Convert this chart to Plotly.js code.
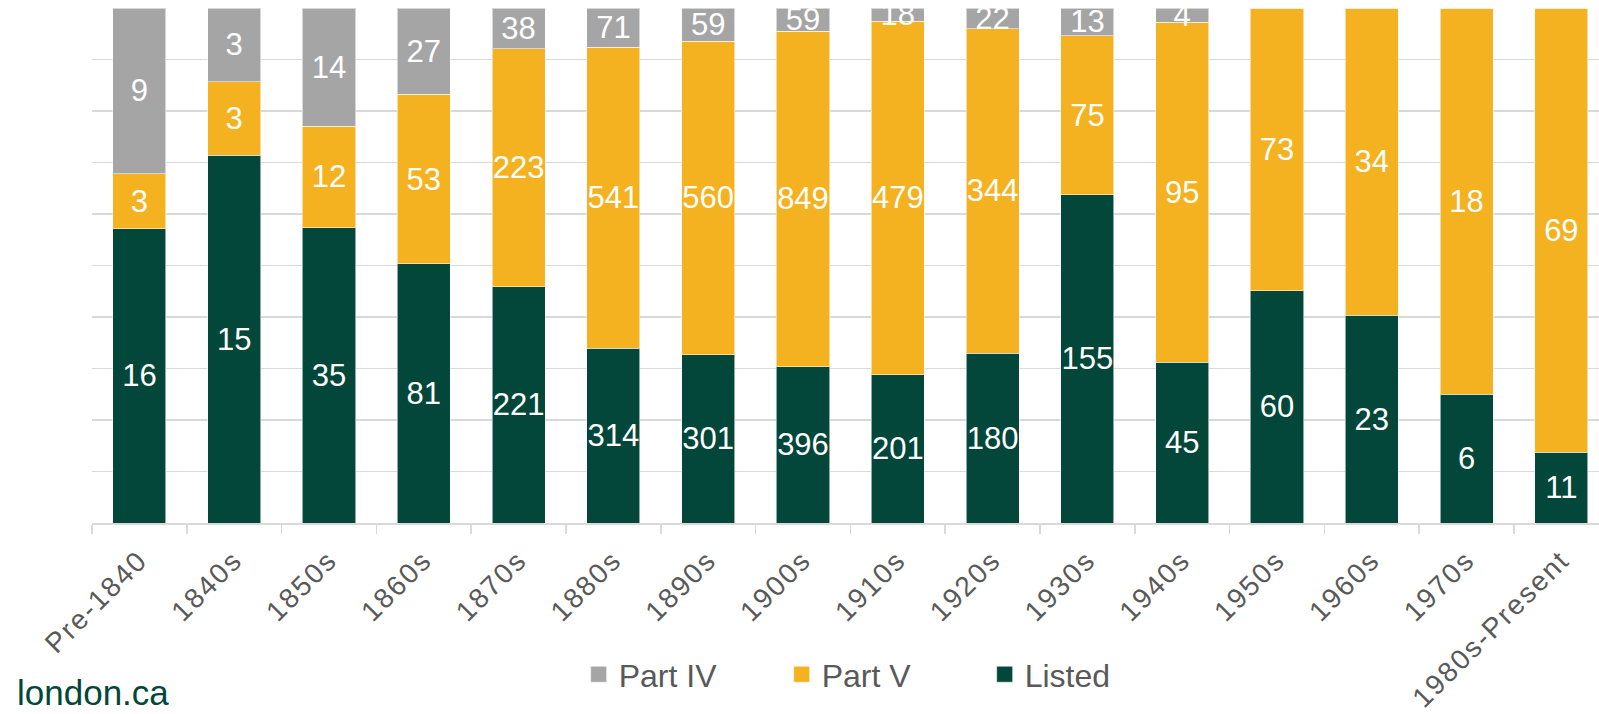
<!DOCTYPE html>
<html>
<head>
<meta charset="utf-8">
<script src="https://cdn.plot.ly/plotly-3.0.1.min.js"></script>
<style>
html,body{margin:0;padding:0;background:#fff;}
#chart{width:1599px;height:714px;}
#chart .xtick text{letter-spacing:2px;}
</style>
</head>
<body>
<div id="chart"></div>
<script>
const categories = ["Pre-1840","1840s","1850s","1860s","1870s","1880s","1890s","1900s","1910s","1920s","1930s","1940s","1950s","1960s","1970s","1980s-Present"];
const listed = [16,15,35,81,221,314,301,396,201,180,155,45,60,23,6,11];
const partV  = [3,3,12,53,223,541,560,849,479,344,75,95,73,34,18,69];
const partIV = [9,3,14,27,38,71,59,59,18,22,13,4,0,0,0,0];

const FONT = "'Liberation Sans', Arial, sans-serif";
function labels(arr){ return arr.map(v => v > 0 ? String(v) : ""); }

function mk(name, vals, color){
  return {
    type: "bar", name: name, x: categories, y: vals,
    text: labels(vals), textposition: "inside", insidetextanchor: "middle",
    textangle: 0, constraintext: "none",
    textfont: {family: FONT, size: 31, color: "#ffffff"},
    marker: {color: color, line: {color: "rgba(255,255,255,0.55)", width: 1}},
    hoverinfo: "x+y+name"
  };
}

const data = [
  mk("Listed", listed, "#03473A"),
  mk("Part V", partV, "#F4B120"),
  mk("Part IV", partIV, "#A5A5A5")
];

const layout = {
  width: 1599, height: 714,
  margin: {l: 92, r: 0, t: 8, b: 191},
  paper_bgcolor: "#ffffff", plot_bgcolor: "#ffffff",
  barmode: "stack", barnorm: "percent", bargap: 0.44,
  showlegend: true,
  legend: {
    orientation: "h", x: 0.525, xanchor: "center", y: -0.294, yanchor: "middle",
    traceorder: "reversed", entrywidth: 158, entrywidthmode: "pixels",
    font: {family: FONT, size: 32, color: "#595959"}
  },
  xaxis: {
    type: "category", range: [-0.5, 15.397],
    showline: true, linecolor: "#d9d9d9", linewidth: 1.5,
    ticks: "outside", tickson: "boundaries", ticklen: 9, tickcolor: "#d9d9d9", tickwidth: 1.5,
    tickangle: -45, ticklabelstandoff: 8,
    tickfont: {family: FONT, size: 28, color: "#595959"},
    showgrid: false, fixedrange: true
  },
  yaxis: {
    range: [0, 100], dtick: 10, showticklabels: false,
    showgrid: true, gridcolor: "#d9d9d9", gridwidth: 1.5,
    zeroline: false, showline: false, ticks: "", fixedrange: true
  },
  annotations: [{
    text: "london.ca", xref: "paper", yref: "paper",
    x: -0.0511, y: -0.329, xanchor: "left", yanchor: "middle",
    showarrow: false, font: {family: FONT, size: 35, color: "#03473A"}
  }]
};

Plotly.newPlot("chart", data, layout, {displayModeBar: false, staticPlot: true}).then(function(){
  document.querySelectorAll("#chart .legendpoints path").forEach(function(p){
    p.setAttribute("d", "M8,8H-8V-8H8Z");
  });
});
</script>
</body>
</html>
